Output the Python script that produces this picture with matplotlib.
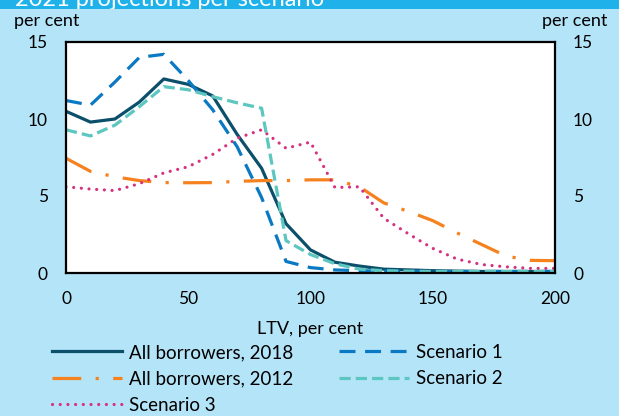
import matplotlib.pyplot as plt
from matplotlib.patches import Rectangle

plt.rcParams['font.family'] = ['Lato', 'DejaVu Sans']

# LTV buckets, per cent
ltv = [0, 10, 20, 30, 40, 50, 60, 70, 80, 90, 100,
       110, 120, 130, 140, 150, 160, 170, 180, 190, 200]

all_2018 = [10.5, 9.8, 10.0, 11.1, 12.6, 12.25, 11.5, 9.0, 6.8, 3.2, 1.5,
            0.7, 0.45, 0.25, 0.2, 0.15, 0.12, 0.1, 0.1, 0.1, 0.1]
all_2012 = [7.45, 6.6, 6.25, 6.0, 5.87, 5.86, 5.87, 5.95, 6.0, 6.0, 6.05,
            6.05, 5.6, 4.55, 4.0, 3.4, 2.6, 1.85, 1.1, 0.82, 0.8]
scen_1 = [11.2, 10.9, 12.4, 14.0, 14.2, 12.5, 10.6, 8.2, 4.9, 0.75, 0.35,
          0.2, 0.15, 0.12, 0.1, 0.1, 0.1, 0.1, 0.1, 0.1, 0.1]
scen_2 = [9.3, 8.9, 9.6, 10.8, 12.1, 11.9, 11.45, 11.05, 10.7, 2.1, 1.2,
          0.6, 0.25, 0.15, 0.12, 0.1, 0.1, 0.1, 0.1, 0.1, 0.1]
scen_3 = [5.6, 5.45, 5.35, 5.8, 6.5, 6.9, 7.7, 8.75, 9.3, 8.1, 8.5,
          5.55, 5.6, 3.55, 2.55, 1.6, 0.9, 0.55, 0.4, 0.3, 0.3]

bg = '#b4e4f8'
fig = plt.figure(figsize=(6.19, 4.16), dpi=100, facecolor=bg)

# header band with the chart title cut at the top edge
band = Rectangle((0, 1 - 9 / 416), 1, 9 / 416, transform=fig.transFigure,
                 facecolor='#1fb1ea', edgecolor='none')
fig.patches.append(band)
title = fig.text(15 / 619, 1 - 6 / 416, '2021 projections per scenario',
                 color='white', fontsize=17, va='baseline', ha='left')
title.set_clip_path(band)

ax = fig.add_axes([66 / 619, 143 / 416, 489 / 619, 231 / 416])
ax.set_facecolor('white')

lw = 2.3
ax.plot(ltv, all_2018, color='#0b4f6b', lw=lw, label='All borrowers, 2018')
ax.plot(ltv, all_2012, color='#f5821f', lw=lw, dashes=(9, 4.5, 1, 4.5),
        label='All borrowers, 2012')
ax.plot(ltv, scen_3, color='#d6307e', lw=lw, dashes=(0.01, 2.4),
        dash_capstyle='round', label='Scenario 3')
ax.plot(ltv, scen_1, color='#0a79c4', lw=lw, dashes=(5, 3),
        label='Scenario 1')
ax.plot(ltv, scen_2, color='#5cc6c0', lw=lw, dashes=(3.5, 1.6),
        label='Scenario 2')

ax.set_xlim(0, 200)
ax.set_ylim(0, 15)
ax.set_xticks([0, 50, 100, 150, 200])
ax.set_yticks([0, 5, 10, 15])
ax.tick_params(length=0, labelsize=12.5, pad=13, labelright=True)
for s in ax.spines.values():
    s.set_linewidth(1.6)
    s.set_color('black')
ax.set_xlabel('LTV, per cent', fontsize=13, labelpad=10)

fig.text(47 / 619, 1 - 21 / 416, 'per cent', fontsize=13,
         ha='center', va='center')
fig.text(575 / 619, 1 - 21 / 416, 'per cent', fontsize=13,
         ha='center', va='center')

handles, labels = ax.get_legend_handles_labels()
fig.legend(handles, labels, ncol=2, loc='upper left',
           bbox_to_anchor=(52 / 619, 1 - 344 / 416), frameon=False,
           fontsize=13.5, handlelength=3.75, handletextpad=0.35,
           columnspacing=2.45, labelspacing=0.5, borderaxespad=0,
           borderpad=0)

fig.savefig('out.png', dpi=100, facecolor=bg)
